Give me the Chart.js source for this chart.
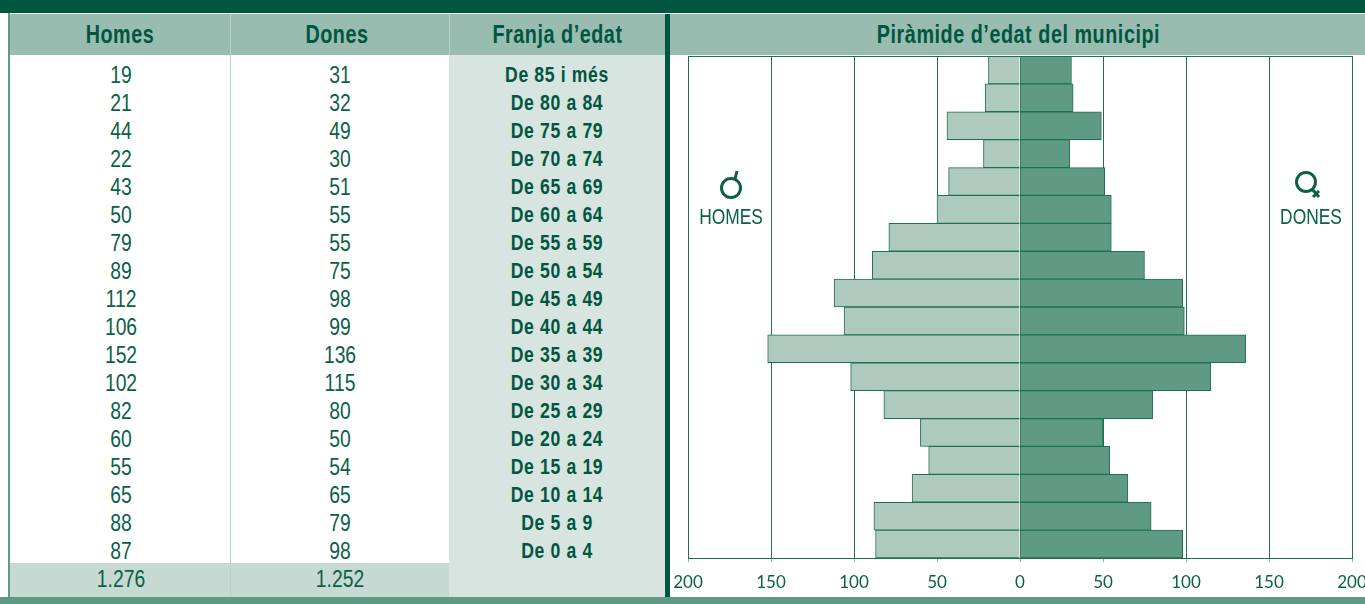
<!DOCTYPE html>
<html>
<head>
<meta charset="utf-8">
<script src="https://cdn.jsdelivr.net/npm/chart.js@4"></script>
<style>
  html, body { margin: 0; padding: 0; background: #fff; }
  #page { position: relative; width: 1365px; height: 604px; overflow: hidden; font-family: "Liberation Sans", sans-serif; color: #0b6047; }
  #page div, #page span { position: absolute; }
  canvas { position: absolute; left: 0; top: 0; }
  .band { background: #98bdb0; }
  .head { top: 20px; height: 28px; line-height: 28px; text-align: center; font-weight: bold; font-size: 25px; color: #00563f; letter-spacing: .7px; transform: scaleX(.79); }
  .num { font-size: 23px; height: 28px; line-height: 28px; text-align: center; width: 120px; transform: scaleX(.84); }
  .age { font-size: 22px; font-weight: bold; height: 28px; line-height: 28px; text-align: center; width: 216px; left: 449px; color: #00563f; letter-spacing: .8px; transform: scaleX(.8); }
  .sex { font-size: 22px; width: 90px; text-align: center; transform: scaleX(.79); }
</style>
</head>
<body>
<div id="page">
  <div style="left:0;top:0;width:1365px;height:13px;background:#00563f"></div>
  <div style="left:8px;top:13px;width:2px;height:584px;background:#5f9a85"></div>
  <div class="band" style="left:10px;top:14px;width:1355px;height:41px"></div>
  <div style="left:449px;top:55px;width:216px;height:542px;background:#d7e4df"></div>
  <div style="left:10px;top:563px;width:439px;height:34px;background:#c6d9d2"></div>
  <div style="left:230px;top:14px;width:1px;height:583px;background:#b9d2c9"></div>
  <div style="left:449px;top:14px;width:1px;height:41px;background:#b9d2c9"></div>
  <div style="left:665px;top:14px;width:5px;height:583px;background:#00563f"></div>
  <div style="left:0;top:597px;width:1365px;height:7px;background:#5f9a85"></div>

  <div class="head" style="left:10px;width:220px">Homes</div>
  <div class="head" style="left:231px;width:212px">Dones</div>
  <div class="head" style="left:450px;width:215px">Franja d’edat</div>
  <div class="head" style="left:670px;width:697px">Piràmide d’edat del municipi</div>

  <div id="rows"></div>

  <canvas id="piramide" width="1365" height="604"></canvas>

  <svg style="position:absolute;left:716px;top:168px" width="30" height="34" fill="none" stroke="#0b6047" stroke-width="3">
    <circle cx="15" cy="20" r="9.5"/><path d="M19 11 L21 3"/>
  </svg>
  <div class="sex" style="left:686px;top:204px">HOMES</div>
  <svg style="position:absolute;left:1290px;top:168px" width="34" height="34" fill="none" stroke="#0b6047" stroke-width="3">
    <circle cx="16" cy="14" r="9.5"/><path d="M22 21 L29 29 M23 29 L29 23"/>
  </svg>
  <div class="sex" style="left:1266px;top:204px">DONES</div>
</div>

<script>
const franges = ["De 85 i més", "De 80 a 84", "De 75 a 79", "De 70 a 74", "De 65 a 69", "De 60 a 64", "De 55 a 59", "De 50 a 54", "De 45 a 49", "De 40 a 44", "De 35 a 39", "De 30 a 34", "De 25 a 29", "De 20 a 24", "De 15 a 19", "De 10 a 14", "De 5 a 9", "De 0 a 4"];
const homes = [19, 21, 44, 22, 43, 50, 79, 89, 112, 106, 152, 102, 82, 60, 55, 65, 88, 87];
const dones = [31, 32, 49, 30, 51, 55, 55, 75, 98, 99, 136, 115, 80, 50, 54, 65, 79, 98];
const totalHomes = "1.276";
const totalDones = "1.252";
const ticks = [-200, -150, -100, -50, 0, 50, 100, 150, 200];

// table rows
var rows = document.getElementById("rows");
function cell(cls, text, left, top) {
  var d = document.createElement("div");
  d.className = cls;
  d.textContent = text;
  if (left != null) d.style.left = left + "px";
  d.style.top = top + "px";
  rows.appendChild(d);
}
franges.forEach(function (f, i) {
  var y = 61 + i * 28;
  cell("num", homes[i], 61, y);
  cell("num", dones[i], 280, y);
  cell("age", f, null, y);
});
cell("num", totalHomes, 61, 565);
cell("num", totalDones, 280, 565);

Chart.defaults.animation = false;
new Chart(document.getElementById("piramide"), {
  type: "bar",
  data: {
    labels: franges,
    datasets: [
      { label: "Homes", data: homes.map(function (v) { return -v; }), backgroundColor: "#aecabf", borderColor: "#1f6f55", borderWidth: 1 },
      { label: "Dones", data: dones, backgroundColor: "#5f9a85", borderColor: "#1f6f55", borderWidth: 1 }
    ]
  },
  options: {
    indexAxis: "y",
    responsive: false,
    devicePixelRatio: 1,
    layout: { padding: { left: 688, right: 13, top: 56, bottom: 0 } },
    plugins: { legend: { display: false }, tooltip: { enabled: false } },
    datasets: { bar: { barPercentage: 1, categoryPercentage: 1 } },
    scales: {
      y: { stacked: true, display: false },
      x: {
        stacked: true,
        min: -200,
        max: 200,
        afterBuildTicks: function (s) { s.ticks = ticks.map(function (v) { return { value: v }; }); },
        afterFit: function (s) { s.height = 46; s.paddingLeft = 0; s.paddingRight = 0; },
        border: { color: "#1f6f55", width: 1 },
        grid: { color: "#1f6f55", lineWidth: 1, drawTicks: true, tickLength: 4, tickColor: "#8fb5a7" },
        ticks: {
          color: "#0b6047",
          padding: 10,
          maxRotation: 0,
          autoSkip: false,
          font: { family: "Lato", size: 17 },
          callback: function (v) { return Math.abs(v); }
        }
      }
    }
  },
  plugins: [{
    id: "marc",
    afterDraw: function (c) {
      var a = c.chartArea, g = c.ctx;
      g.save();
      g.strokeStyle = "#1f6f55";
      g.lineWidth = 1;
      g.strokeRect(Math.round(a.left) + .5, Math.round(a.top) + .5, a.right - a.left, a.bottom - a.top);
      g.restore();
    }
  }]
});
</script>
</body>
</html>
